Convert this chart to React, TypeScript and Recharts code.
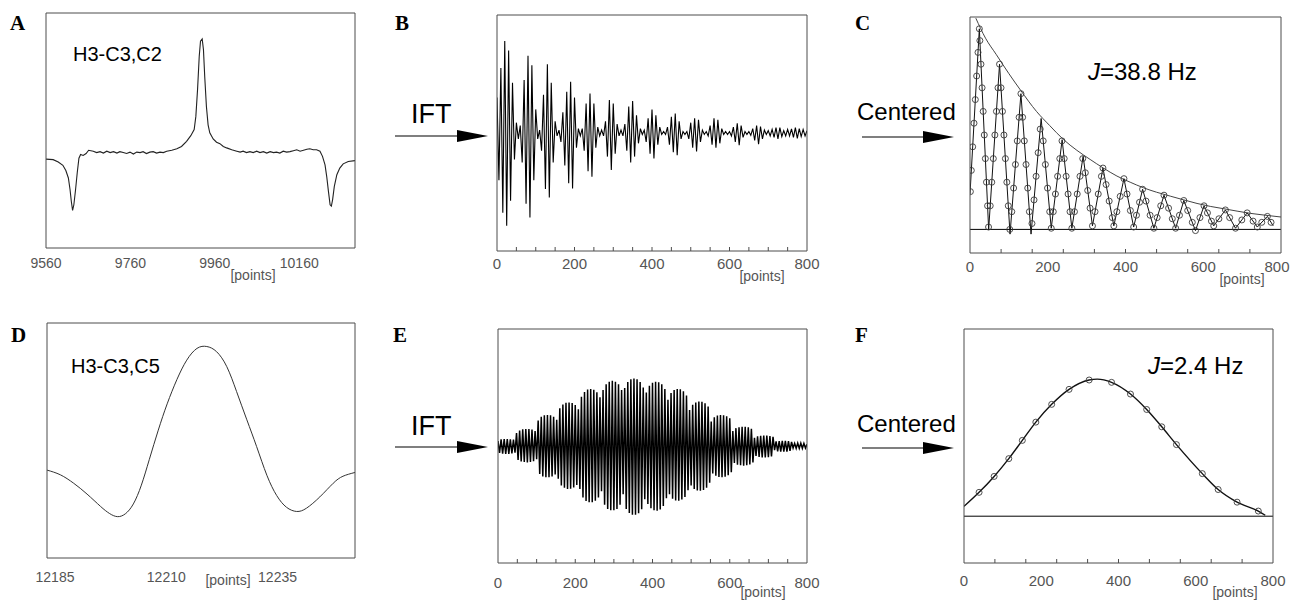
import React from 'react';
import { ComposedChart, Line, XAxis, YAxis, ReferenceLine } from 'recharts';

const SANS = "'Liberation Sans', Arial, Helvetica, sans-serif";
const SERIF = "'Liberation Serif', 'Times New Roman', Times, serif";
const FRAME = '#4d4d4d';
const LABEL = '#555555';

// ---------------- Panel A: spectrum H3-C3,C2 ----------------
const aSpectrum: [number, number][] = [
  [9560, 1.89], [9577, 1.88], [9589, 1.83], [9600, 1.76], [9607, 1.65], [9613, 1.49], [9617, 1.24], [9620, 0.99],
  [9623, 0.8], [9626, 0.92], [9630, 1.24], [9634, 1.6], [9638, 1.91], [9642, 1.99], [9648, 1.97], [9655, 2.01],
  [9661, 2.08], [9672, 2.06], [9680, 2.03], [9688, 2.05], [9696, 2.02], [9704, 2.06], [9712, 2.03], [9720, 2.05],
  [9728, 2.02], [9735, 2.05], [9743, 2.03], [9751, 2.01], [9759, 2.04], [9767, 2.0], [9775, 2.04], [9783, 2.03],
  [9790, 2.05], [9798, 2.01], [9806, 2.04], [9814, 2.05], [9822, 2.02], [9830, 2.04], [9838, 2.03], [9846, 2.06],
  [9858, 2.08], [9870, 2.11], [9881, 2.16], [9893, 2.27], [9903, 2.39], [9911, 2.52], [9915, 2.8], [9919, 3.37],
  [9923, 4.08], [9926, 4.4], [9930, 4.45], [9933, 4.22], [9936, 3.65], [9940, 3.01], [9944, 2.62], [9948, 2.45],
  [9956, 2.32], [9964, 2.25], [9972, 2.22], [9980, 2.16], [9988, 2.13], [10000, 2.09], [10012, 2.06], [10020, 2.04],
  [10027, 2.06], [10035, 2.03], [10043, 2.05], [10051, 2.03], [10059, 2.06], [10067, 2.03], [10075, 2.05],
  [10083, 2.02], [10091, 2.05], [10099, 2.03], [10106, 2.04], [10114, 2.02], [10122, 2.06], [10130, 2.04],
  [10138, 2.05], [10146, 2.07], [10154, 2.09], [10162, 2.06], [10170, 2.08], [10178, 2.1], [10185, 2.11],
  [10193, 2.09], [10201, 2.09], [10209, 2.06], [10215, 1.95], [10221, 1.77], [10225, 1.52], [10229, 1.21],
  [10233, 0.92], [10236, 0.89], [10239, 1.03], [10243, 1.31], [10249, 1.56], [10256, 1.7], [10264, 1.79],
  [10276, 1.84], [10292, 1.86],
];
const aTickLabels = [9560, 9760, 9960, 10160];
const aRightTicks = [1, 2, 3, 4];

// ---------------- Panel B: IFT of A ----------------
const bStep = 5;
const bSignal = [
  1.2, -1.6, 2.2, -2.7, 3.12, -3.14, 2.8, -2.3, 1.7, -0.9,
  0.35, -0.2, 0.25, -1.0, 1.8, -2.4, 2.62, -2.86, 2.3, -1.6,
  0.8, -0.2, 0.1, -0.6, 1.3, -1.9, 2.33, -2.19, 1.7, -1.0,
  0.4, -0.1, 0.1, -0.3, 0.7, -1.1, 1.4, -1.7, 1.74, -1.88,
  1.2, -0.5, 0.15, -0.1, 0.15, -0.6, 1.0, -1.3, 1.34, -1.48,
  1.0, -0.5, 0.2, -0.1, 0.1, -0.1, 0.4, -0.8, 1.12, -1.25,
  1.0, -0.7, 0.3, -0.1, 0.1, -0.1, 0.3, -0.6, 0.9, -1.0,
  1.08, -0.8, 0.6, -0.35, 0.15, -0.05, 0.1, -0.3, 0.5, -0.7,
  0.8, -0.86, 0.6, -0.4, 0.2, -0.05, 0.05, -0.05, 0.2, -0.4,
  0.55, -0.65, 0.66, -0.75, 0.4, -0.2, 0.05, -0.05, 0.05, -0.2,
  0.35, -0.5, 0.5, -0.63, 0.45, -0.3, 0.1, -0.05, 0.05, -0.1,
  0.25, -0.4, 0.5, -0.5, 0.45, -0.35, 0.15, -0.05, 0.05, -0.05,
  0.05, -0.1, 0.2, -0.3, 0.33, -0.41, 0.25, -0.15, 0.05, -0.05,
  0.05, -0.08, 0.15, -0.25, 0.25, -0.38, 0.22, -0.2, 0.1, -0.05,
  0.08, -0.1, 0.12, -0.15, 0.18, -0.2, 0.18, -0.12, 0.08, -0.1,
  0.12, -0.1, 0.14, -0.15, 0.18, -0.18, 0.15, -0.12, 0.12, -0.1,
  0.08,
];
const pointLabels = [0, 200, 400, 600, 800];
const marks50 = [50, 100, 150, 200, 250, 300, 350, 400, 450, 500, 550, 600, 650, 700, 750];
const marks80 = [80, 160, 240, 320, 400, 480, 560, 640, 720];
const ySym4Ticks = [-3, -2, -1, 0, 1, 2, 3];

// ---------------- Panel C: centered, J = 38.8 Hz ----------------
const cEnvelope: [number, number][] = [
  [15, 17.9], [40, 16.2], [68, 14.8], [100, 13.2], [130, 11.8], [171, 10.0], [205, 8.8], [240, 7.63],
  [275, 6.7], [309, 5.93], [343, 5.2], [378, 4.52], [412, 4.0], [446, 3.53], [480, 3.15], [515, 2.82],
  [550, 2.5], [584, 2.2], [618, 1.95], [653, 1.75], [687, 1.55], [721, 1.36], [760, 1.2], [800, 1.05],
];
const cFit: [number, number][] = [
  [0, 3.0], [24, 17.0], [48, 0], [76, 14.0], [103, -0.4], [131, 11.5], [157, -0.4], [183, 9.4], [209, 0.1],
  [237, 7.6], [262, 0.1], [291, 6.2], [315, 0.3], [342, 5.2], [370, 0.3], [396, 4.3], [421, 0.2], [444, 3.4],
  [473, 0.1], [499, 2.9], [529, 0.1], [550, 2.45], [580, -0.1], [602, 2.0], [627, 0.3], [657, 1.65],
  [683, 0.1], [713, 1.4], [739, 0.2], [765, 1.1], [780, 0.3],
];
const cSamples: [number, number][] = [
  [1, 3.2], [3.4, 5], [6.9, 7], [10.3, 9], [13.7, 11], [17.1, 13], [20.6, 15], [24, 17],
  [25.4, 16], [28.2, 14], [31.1, 12], [33.9, 10], [36.7, 8], [39.5, 6], [42.4, 4], [45.2, 2], [47.7, 0.2],
  [52, 2], [56, 4], [60, 6], [64, 8], [68, 10], [72, 12], [76, 14],
  [79.8, 12], [83.5, 10], [87.3, 8], [91, 6], [94.8, 4], [98.5, 2], [102.3, 0],
  [107.5, 1.5], [112.2, 3.5], [116.9, 5.5], [121.6, 7.5], [126.3, 9.5], [131, 11.5],
  [135.4, 9.5], [139.7, 7.5], [144.1, 5.5], [148.5, 3.5], [152.8, 1.5],
  [159.4, 0.5], [164.7, 2.5], [170, 4.5], [175.3, 6.5], [180.6, 8.5],
  [188.3, 7.5], [193.9, 5.5], [199.5, 3.5], [205.1, 1.5], [209, 0.1],
  [214.2, 1.5], [219.8, 3], [225.4, 4.5], [231, 6], [236.6, 7.5],
  [242.3, 6], [247.3, 4.5], [252.3, 3], [257.3, 1.5], [262, 0.1],
  [268.7, 1.5], [275.8, 3], [282.9, 4.5], [290, 6],
  [296.7, 4.8], [302.8, 3.3], [308.9, 1.8], [315, 0.3],
  [321.6, 1.5], [329.9, 3], [338.1, 4.5], [342, 5.2],
  [350, 3.8], [358, 2.4], [366, 1.0], [370, 0.3],
  [377.8, 1.5], [386.3, 2.8], [396, 4.3],
  [403.9, 3.0], [412.5, 1.6], [421, 0.2],
  [428.2, 1.2], [436.1, 2.3], [444, 3.4],
  [452.8, 2.4], [463.3, 1.2], [473, 0.1],
  [481.4, 1.0], [490.6, 2.0], [499, 2.9],
  [510.8, 1.8], [520.4, 0.9], [529, 0.1],
  [538.8, 1.2], [550, 2.45],
  [560, 1.6], [571.8, 0.6], [580, -0.1],
  [591.5, 1.0], [602, 2.0],
  [610.8, 1.4], [621.1, 0.7], [627, 0.3],
  [640.3, 0.9], [657, 1.65],
  [667.9, 1.0], [683, 0.1],
  [699.2, 0.8], [713, 1.4],
  [728.2, 0.7], [739, 0.2],
  [750.6, 0.6], [765, 1.1],
  [774.4, 0.6],
];
const cYTicks = [-1, 0, 1, 2, 3, 4, 5, 6, 7, 8, 9, 10, 11, 12, 13, 14, 15, 16, 17];

// ---------------- Panel D: spectrum H3-C3,C5 ----------------
const dSpectrum: [number, number][] = [
  [12183.2, 1.87], [12186.2, 1.77], [12189.2, 1.59], [12192.2, 1.36], [12195.2, 1.1], [12197.2, 0.95],
  [12199.0, 0.88], [12200.8, 0.94], [12202.6, 1.15], [12204.4, 1.55], [12206.2, 2.1], [12208.2, 2.72],
  [12210.2, 3.28], [12212.4, 3.8], [12214.6, 4.21], [12216.9, 4.46], [12219.1, 4.5], [12221.3, 4.39],
  [12223.6, 4.07], [12225.8, 3.54], [12228.1, 2.94], [12230.3, 2.37], [12232.6, 1.76], [12234.8, 1.33],
  [12237.0, 1.08], [12239.3, 0.99], [12241.5, 1.06], [12244.5, 1.3], [12247.5, 1.59], [12249.7, 1.74],
  [12252.4, 1.82],
];
const dTickLabels = [12185, 12210, 12235];
const dRightTicks = [1, 2, 3, 4];

// ---------------- Panel E: IFT of D ----------------
const eStep = 4;
const eSignal = [
  0.17, -0.24, 0.23, -0.26, 0.24, -0.27, 0.24, -0.27, 0.23, -0.25,
  0.22, -0.23, 0.44, -0.48, 0.53, -0.53, 0.57, -0.55, 0.58, -0.56,
  0.58, -0.55, 0.56, -0.52, 0.51, -0.45, 0.87, -0.96, 1.0, -1.04,
  1.05, -1.07, 1.06, -1.07, 1.05, -1.04, 1.0, -0.97, 0.9, -1.12,
  1.29, -1.35, 1.42, -1.43, 1.48, -1.47, 1.49, -1.46, 1.47, -1.42,
  1.4, -1.33, 1.26, -1.47, 1.68, -1.76, 1.85, -1.88, 1.93, -1.92,
  1.95, -1.92, 1.92, -1.87, 1.84, -1.76, 1.67, -1.55, 1.91, -2.01,
  2.11, -2.15, 2.2, -2.2, 2.23, -2.2, 2.2, -2.15, 2.11, -2.01,
  1.91, -1.65, 1.98, -2.15, 2.19, -2.29, 2.28, -2.35, 2.31, -2.35,
  2.28, -2.3, 2.19, -2.16, 2.0, -1.82, 1.83, -1.98, 2.06, -2.13,
  2.16, -2.2, 2.2, -2.21, 2.18, -2.17, 2.11, -2.05, 1.95, -1.79,
  1.58, -1.65, 1.81, -1.8, 1.91, -1.86, 1.95, -1.87, 1.94, -1.83,
  1.87, -1.74, 1.73, -1.51, 1.23, -1.35, 1.41, -1.47, 1.49, -1.52,
  1.52, -1.53, 1.51, -1.5, 1.46, -1.43, 1.35, -1.26, 0.84, -0.94,
  0.98, -1.02, 1.04, -1.06, 1.06, -1.07, 1.05, -1.05, 1.02, -1.0,
  0.95, -0.9, 0.51, -0.58, 0.61, -0.64, 0.64, -0.66, 0.66, -0.67,
  0.66, -0.66, 0.64, -0.63, 0.59, -0.56, 0.28, -0.34, 0.33, -0.37,
  0.35, -0.39, 0.36, -0.39, 0.36, -0.38, 0.34, -0.36, 0.31, -0.14,
  0.16, -0.18, 0.17, -0.19, 0.18, -0.19, 0.18, -0.19, 0.17, -0.17,
  0.14, -0.07, 0.09, -0.08, 0.1, -0.08, 0.1, -0.08, 0.09, -0.07,
  0.06,
];

// ---------------- Panel F: centered, J = 2.4 Hz ----------------
const fFit: [number, number][] = [
  [0, 0.21], [39, 0.51], [78, 0.85], [116, 1.23], [151, 1.62], [186, 2.01], [227, 2.39], [272, 2.71],
  [324, 2.91], [345, 2.93], [382, 2.86], [431, 2.61], [473, 2.28], [512, 1.91], [550, 1.53], [617, 0.91],
  [658, 0.57], [707, 0.3], [762, 0.11], [780, 0.02],
];
const fSamples: [number, number][] = [
  [39, 0.51], [78, 0.85], [116, 1.23], [151, 1.62], [186, 2.01], [227, 2.39], [272, 2.71], [324, 2.91],
  [382, 2.86], [431, 2.61], [473, 2.28], [512, 1.91], [550, 1.53], [617, 0.91], [658, 0.57], [707, 0.3],
  [762, 0.11],
];
const fYTicks = [0, 1, 2, 3];

// ---------------- helpers ----------------
const pairs = (arr: [number, number][]) => arr.map(([x, y]) => ({ x, y }));
const stepped = (vals: number[], step: number) => vals.map((y, i) => ({ x: i * step, y }));

type Rect = [number, number, number, number];

interface PanelProps {
  box: Rect; // left, top, width, height
  plot: Rect; // x0, y0, x1, y1 in page pixels
  xDomain: [number, number];
  yDomain: [number, number];
  xLabels: number[];
  bottomMarks: number[];
  topMarks: number[];
  leftTicks: number[];
  rightTicks: number[];
  labelDy: number;
  labelSize: number;
  children?: React.ReactNode;
}

function Panel(p: PanelProps) {
  const [bl, bt, bw, bh] = p.box;
  const [x0, y0, x1, y1] = p.plot;
  const margin = { left: x0 - bl - 1, top: y0 - bt - 1, right: bl + bw - x1 - 1, bottom: bt + bh - y1 - 1 };
  const bottomTicks = Array.from(new Set([...p.xLabels, ...p.bottomMarks])).sort((a, b) => a - b);
  const maxLabelX = bw - 13;
  const renderBottom = (t: any) => {
    const v = t.payload.value;
    return (
      <g>
        {p.bottomMarks.includes(v) && (
          <line x1={t.x} x2={t.x} y1={t.y} y2={t.y - 4} stroke={FRAME} strokeWidth={1} />
        )}
        {p.xLabels.includes(v) && (
          <text x={Math.min(t.x, maxLabelX)} y={t.y + p.labelDy} textAnchor="middle" fontSize={p.labelSize} fill={LABEL} fontFamily={SANS}>
            {v}
          </text>
        )}
      </g>
    );
  };
  const topTicks = p.topMarks.length ? p.topMarks : [p.xDomain[0]];
  const leftTicks = p.leftTicks.length ? p.leftTicks : [p.yDomain[0]];
  const rightTicks = p.rightTicks.length ? p.rightTicks : [p.yDomain[0]];
  return (
    <div style={{ position: 'absolute', left: bl, top: bt, width: bw, height: bh }}>
      <ComposedChart width={bw} height={bh} margin={margin}>
        <XAxis
          xAxisId="x" type="number" dataKey="x" domain={p.xDomain} allowDataOverflow
          ticks={bottomTicks} interval={0} tick={renderBottom} tickLine={false}
          tickSize={0} tickMargin={0} height={1} axisLine={{ stroke: FRAME, strokeWidth: 1 }}
        />
        <XAxis
          xAxisId="top" orientation="top" type="number" domain={p.xDomain} allowDataOverflow
          ticks={topTicks} interval={0} tick={false} tickSize={-4}
          tickLine={p.topMarks.length ? { stroke: FRAME, strokeWidth: 1 } : false}
          height={1} axisLine={{ stroke: FRAME, strokeWidth: 1 }}
        />
        <YAxis
          yAxisId="y" type="number" domain={p.yDomain} allowDataOverflow
          ticks={leftTicks} interval={0} tick={false} tickSize={-4}
          tickLine={p.leftTicks.length ? { stroke: FRAME, strokeWidth: 1 } : false}
          width={1} axisLine={{ stroke: FRAME, strokeWidth: 1 }}
        />
        <YAxis
          yAxisId="right" orientation="right" type="number" domain={p.yDomain} allowDataOverflow
          ticks={rightTicks} interval={0} tick={false} tickSize={-4}
          tickLine={p.rightTicks.length ? { stroke: FRAME, strokeWidth: 1 } : false}
          width={1} axisLine={{ stroke: FRAME, strokeWidth: 1 }}
        />
        {p.children}
      </ComposedChart>
    </div>
  );
}

const lineProps = {
  xAxisId: 'x',
  yAxisId: 'y',
  dataKey: 'y',
  dot: false as const,
  activeDot: false as const,
  isAnimationActive: false,
};

const circleDot = { r: 3, stroke: '#3a3a3a', strokeWidth: 0.9, fill: 'none' };

function Arrow({ x0, x1, xt, y }: { x0: number; x1: number; xt: number; y: number }) {
  return (
    <g>
      <line x1={x0} x2={x1 + 2} y1={y} y2={y} stroke="#000" strokeWidth={1.2} />
      <polygon points={`${x1},${y - 6} ${xt},${y} ${x1},${y + 6}`} fill="#000" />
    </g>
  );
}

export default function App() {
  return (
    <div style={{ position: 'absolute', left: 0, top: 0, width: 1290, height: 602, background: '#fff', fontFamily: SANS }}>
      {/* A */}
      <Panel box={[0, 0, 370, 300]} plot={[46, 13, 355, 248]} xDomain={[9560, 10292]} yDomain={[0, 5]}
        xLabels={aTickLabels} bottomMarks={[]} topMarks={[]} leftTicks={[]} rightTicks={aRightTicks}
        labelDy={20} labelSize={14}>
        <Line {...lineProps} data={pairs(aSpectrum)} type="linear" stroke="#222" strokeWidth={1.1} />
      </Panel>
      {/* B */}
      <Panel box={[380, 0, 440, 300]} plot={[497, 15, 807, 251]} xDomain={[0, 800]} yDomain={[-4, 4]}
        xLabels={pointLabels} bottomMarks={marks50} topMarks={marks50} leftTicks={ySym4Ticks} rightTicks={ySym4Ticks}
        labelDy={17.5} labelSize={15}>
        <Line {...lineProps} data={stepped(bSignal, bStep)} type="linear" stroke="#000" strokeWidth={1.1} />
      </Panel>
      {/* C */}
      <Panel box={[830, 0, 460, 300]} plot={[970, 17, 1281, 253]} xDomain={[0, 800]} yDomain={[-2, 18]}
        xLabels={pointLabels} bottomMarks={marks80} topMarks={marks80} leftTicks={cYTicks} rightTicks={cYTicks}
        labelDy={19} labelSize={15}>
        <ReferenceLine xAxisId="x" yAxisId="y" y={0} stroke="#000" strokeWidth={1} />
        <Line {...lineProps} data={pairs(cEnvelope)} type="monotone" stroke="#444" strokeWidth={1} />
        <Line {...lineProps} data={pairs(cFit)} type="linear" stroke="#111" strokeWidth={1} />
        <Line {...lineProps} data={pairs(cSamples)} type="linear" stroke="none" dot={circleDot} />
      </Panel>
      {/* D */}
      <Panel box={[0, 300, 370, 302]} plot={[47, 323, 355, 558]} xDomain={[12183.2, 12252.4]} yDomain={[0, 5]}
        xLabels={dTickLabels} bottomMarks={[]} topMarks={[]} leftTicks={[]} rightTicks={dRightTicks}
        labelDy={24} labelSize={14}>
        <Line {...lineProps} data={pairs(dSpectrum)} type="natural" stroke="#333" strokeWidth={1} />
      </Panel>
      {/* E */}
      <Panel box={[380, 300, 440, 302]} plot={[498, 329, 807, 563]} xDomain={[0, 800]} yDomain={[-4, 4]}
        xLabels={pointLabels} bottomMarks={marks50} topMarks={marks50} leftTicks={ySym4Ticks} rightTicks={ySym4Ticks}
        labelDy={25} labelSize={15}>
        <Line {...lineProps} data={stepped(eSignal, eStep)} type="linear" stroke="#000" strokeWidth={1.5} />
      </Panel>
      {/* F */}
      <Panel box={[830, 300, 460, 302]} plot={[964, 329, 1273, 563]} xDomain={[0, 800]} yDomain={[-1, 4]}
        xLabels={pointLabels} bottomMarks={marks80} topMarks={marks80} leftTicks={fYTicks} rightTicks={fYTicks}
        labelDy={23} labelSize={15}>
        <ReferenceLine xAxisId="x" yAxisId="y" y={0} stroke="#000" strokeWidth={1} />
        <Line {...lineProps} data={pairs(fFit)} type="monotone" stroke="#111" strokeWidth={1.4} />
        <Line {...lineProps} data={pairs(fSamples)} type="linear" stroke="none" dot={circleDot} />
      </Panel>

      {/* annotations */}
      <svg width={1290} height={602} style={{ position: 'absolute', left: 0, top: 0, pointerEvents: 'none' }}>
        <g fontFamily={SERIF} fontWeight="bold" fontSize={21} fill="#000">
          <text x={10} y={30}>A</text>
          <text x={395} y={30}>B</text>
          <text x={855} y={30}>C</text>
          <text x={11} y={342}>D</text>
          <text x={393} y={342}>E</text>
          <text x={855} y={342}>F</text>
        </g>
        <g fontFamily={SANS} fill="#000">
          <text x={73} y={61} fontSize={20}>H3-C3,C2</text>
          <text x={71} y={373} fontSize={20}>H3-C3,C5</text>
          <text x={411} y={123} fontSize={27}>IFT</text>
          <text x={411} y={435} fontSize={27}>IFT</text>
          <text x={857} y={120} fontSize={24}>Centered</text>
          <text x={857} y={432} fontSize={24}>Centered</text>
          <text x={1088} y={80} fontSize={24}><tspan fontStyle="italic">J</tspan>=38.8 Hz</text>
          <text x={1148} y={374} fontSize={24}><tspan fontStyle="italic">J</tspan>=2.4 Hz</text>
        </g>
        <g fontFamily={SANS} fill={LABEL} fontSize={14} textAnchor="middle">
          <text x={253} y={280}>[points]</text>
          <text x={762} y={281}>[points]</text>
          <text x={1242} y={284}>[points]</text>
          <text x={228} y={585}>[points]</text>
          <text x={763} y={597}>[points]</text>
          <text x={1235} y={597}>[points]</text>
        </g>
        <Arrow x0={395} x1={457} xt={488} y={136} />
        <Arrow x0={395} x1={457} xt={488} y={447} />
        <Arrow x0={862} x1={923} xt={954} y={137} />
        <Arrow x0={862} x1={923} xt={954} y={448} />
      </svg>
    </div>
  );
}
